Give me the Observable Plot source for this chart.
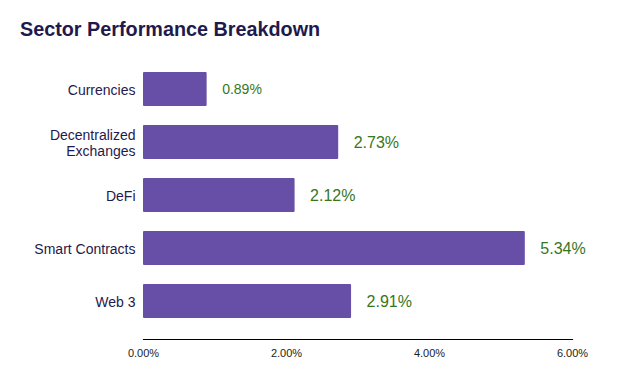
<!DOCTYPE html>
<html>
<head>
<meta charset="utf-8">
<script src="https://cdn.jsdelivr.net/npm/d3@7"></script>
<script src="https://cdn.jsdelivr.net/npm/@observablehq/plot@0.6"></script>
<style>
  html, body { margin: 0; padding: 0; background: #fff; }
  #title { height: 44px; box-sizing: border-box; padding: 17px 0 0 20px; font: bold 19.8px "Liberation Sans", Arial, sans-serif; color: #1f1a4d; line-height: 24px; }
  #chart { height: 332px; }
  svg { display: block; }
</style>
</head>
<body>
<div id="title">Sector Performance Breakdown</div>
<div id="chart"></div>
<script>
const sectors = ["Currencies", "Decentralized Exchanges", "DeFi", "Smart Contracts", "Web 3"];
const sectorLabels = ["Currencies", "Decentralized\nExchanges", "DeFi", "Smart Contracts", "Web 3"];
const values = [0.89, 2.73, 2.12, 5.34, 2.91];
const xTicks = [0, 2, 4, 6];

const data = sectors.map((s, i) => ({sector: s, label: sectorLabels[i], value: values[i]}));
const labelOf = new Map(sectors.map((s, i) => [s, sectorLabels[i]]));

const chart = Plot.plot({
  width: 623,
  height: 332,
  marginLeft: 143,
  marginRight: 51,
  marginTop: 7.5,
  marginBottom: 37,
  style: {fontFamily: "'Liberation Sans', Arial, sans-serif", background: "#fff"},
  x: {domain: [0, 6], ticks: xTicks, tickFormat: d => d.toFixed(2) + "%", label: null},
  y: {domain: sectors, paddingInner: 0.35, paddingOuter: 0.35, label: null},
  marks: [
    Plot.barX(data, {x: "value", y: "sector", fill: "#674ea7", rx: 1}),
    Plot.frame({anchor: "bottom", stroke: "#000", strokeWidth: 1.2}),
    Plot.axisX({ticks: xTicks, tickSize: 0, tickPadding: 10, tickFormat: d => d.toFixed(2) + "%", fontSize: 11, fill: "#222", label: null}),
    Plot.axisY({tickSize: 0, tickPadding: 8, tickFormat: d => labelOf.get(d), fontSize: 14, fill: "#1f1a4d", label: null, lineHeight: 1.15}),
    Plot.text(data, {x: "value", y: "sector", text: d => d.value.toFixed(2) + "%", dx: 15, textAnchor: "start", fill: "#38761d", fontSize: d => d.value < 1 ? 14 : 16})
  ]
});
document.getElementById("chart").appendChild(chart);
</script>
</body>
</html>
